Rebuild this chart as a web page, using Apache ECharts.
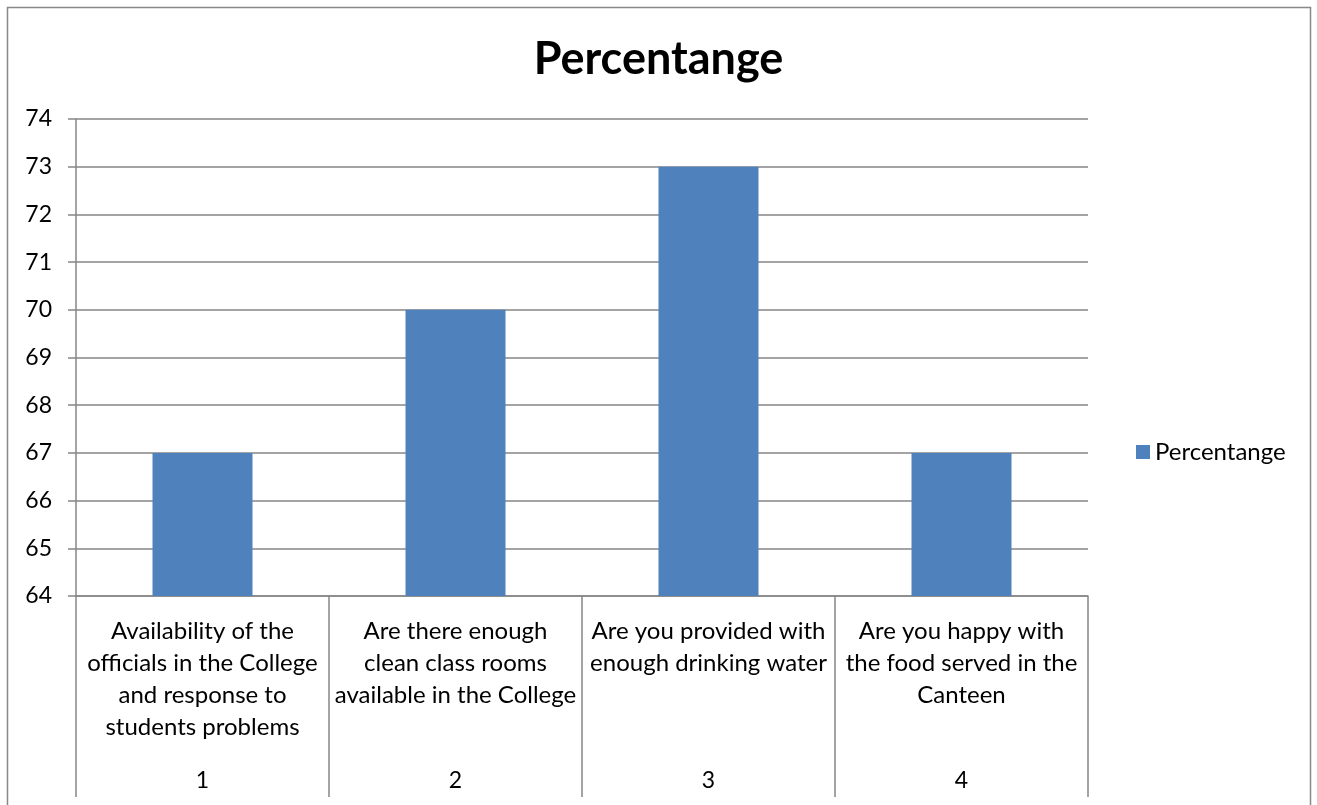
<!DOCTYPE html>
<html>
<head>
<meta charset="utf-8">
<script src="https://cdn.jsdelivr.net/npm/echarts@6/dist/echarts.min.js"></script>
<style>html,body{margin:0;padding:0;background:#fff}#c{width:1317px;height:805px}</style>
</head>
<body>
<div id="c"></div>
<script>
var categories = [
  "Availability of the\nofficials in the College\nand response to\nstudents problems",
  "Are there enough\nclean class rooms\navailable in the College",
  "Are you provided with\nenough drinking water",
  "Are you happy with\nthe food served in the\nCanteen"
];
var groupLabels = ["1", "2", "3", "4"];
var seriesName = "Percentange";
var values = [67, 70, 73, 67];
var yMin = 64, yMax = 74, yStep = 1;

var FONT = "Lato";
var GRAY = "#868686";
var chart = echarts.init(document.getElementById('c'));
chart.setOption({
  animation: false,
  backgroundColor: '#fff',
  graphic: [{
    type: 'rect', silent: true,
    shape: {x: 7.5, y: 7.5, width: 1303, height: 820},
    style: {fill: 'none', stroke: '#898989', lineWidth: 1.5}
  }],
  title: {
    text: seriesName, left: 'center', top: 32,
    textStyle: {fontFamily: FONT, fontWeight: 'bold', fontSize: 45, color: '#000'}
  },
  legend: {
    data: [seriesName], left: 1131, top: 435, icon: 'rect',
    itemWidth: 14, itemHeight: 14, itemGap: 8,
    textStyle: {fontFamily: FONT, fontSize: 24, color: '#000'}
  },
  grid: {left: 76, right: 229, top: 119, bottom: 209, containLabel: false},
  xAxis: [{
    type: 'category', data: categories, position: 'bottom',
    axisLine: {show: true, lineStyle: {color: GRAY, width: 1.5}},
    axisTick: {show: true, interval: 0, length: 201, lineStyle: {color: GRAY, width: 1.5}},
    axisLabel: {interval: 0, margin: 19, fontFamily: FONT, fontSize: 24, lineHeight: 32, color: '#000', verticalAlign: 'top'}
  }, {
    type: 'category', data: groupLabels, position: 'bottom',
    axisLine: {show: false}, axisTick: {show: false},
    axisLabel: {interval: 0, margin: 173, fontFamily: FONT, fontSize: 23, color: '#000'}
  }],
  yAxis: {
    type: 'value', min: yMin, max: yMax, interval: yStep,
    axisLine: {show: true, lineStyle: {color: GRAY, width: 1.5}},
    axisTick: {show: true, length: 8, lineStyle: {color: GRAY, width: 1.5}},
    splitLine: {show: true, lineStyle: {color: GRAY, width: 1.5}},
    axisLabel: {margin: 24, fontFamily: FONT, fontSize: 23, color: '#000'}
  },
  series: [{
    name: seriesName, type: 'bar', data: values, barWidth: 100,
    itemStyle: {color: '#4F81BD'}
  }]
});
</script>
</body>
</html>
